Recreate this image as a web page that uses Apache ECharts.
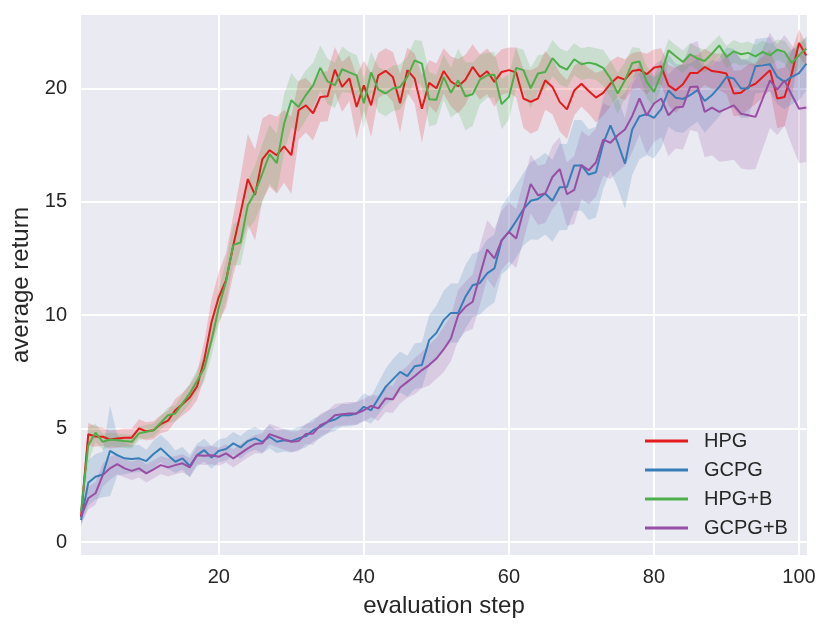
<!DOCTYPE html>
<html>
<head>
<meta charset="utf-8">
<script src="https://cdn.jsdelivr.net/npm/echarts@6/dist/echarts.min.js"></script>
<style>
html,body{margin:0;padding:0;background:#fff;}
#chart{width:831px;height:633px;}
</style>
</head>
<body>
<div id="chart"></div>
<script>
const seriesNames = ['HPG', 'GCPG', 'HPG+B', 'GCPG+B'];
const xTicks = [20, 40, 60, 80, 100];
const yTicks = [0, 5, 10, 15, 20];

const hpg = [1.1,4.75,4.65,4.64,4.52,4.56,4.6,4.6,5.01,4.88,4.93,5.2,5.35,5.81,6.08,6.37,6.86,8.05,9.7,10.8,
11.54,13.08,14.5,16.0,15.3,16.87,17.27,17.05,17.44,17.05,19.03,19.25,18.9,19.62,19.65,20.82,20.06,20.44,19.18,20.13,
19.25,20.57,20.77,20.5,19.34,20.8,20.43,19.1,20.24,20.0,20.76,20.3,20.09,20.38,20.94,20.5,20.75,20.28,20.72,20.8,
20.7,19.55,19.4,19.55,20.35,20.06,19.4,19.07,19.9,20.2,19.88,19.59,19.8,20.2,20.5,20.38,20.76,20.82,20.62,20.91,
20.97,20.13,19.91,20.18,20.67,20.67,20.94,20.76,20.72,20.65,19.77,19.8,20.06,20.2,20.5,20.8,19.55,19.62,20.65,22.0,21.45];

const gcpg = [0.97,2.61,2.88,2.98,4.02,3.83,3.69,3.66,3.69,3.57,3.88,4.13,3.83,3.54,3.69,3.35,3.83,4.05,3.73,4.02,
4.1,4.35,4.17,4.45,4.57,4.42,4.64,4.42,4.49,4.45,4.57,4.67,4.93,5.08,5.3,5.4,5.59,5.59,5.67,5.96,
5.81,6.33,6.84,7.17,7.5,7.31,7.75,7.8,8.9,9.22,9.78,10.1,10.1,10.81,11.32,11.42,11.84,12.06,13.3,13.67,
14.15,14.67,15.04,15.12,15.36,15.04,15.64,15.65,16.6,16.6,16.2,16.3,17.56,18.37,17.6,16.68,18.18,18.77,18.86,18.7,
19.08,19.9,19.58,19.53,19.7,19.92,19.44,19.7,20.06,20.5,20.43,19.99,19.99,20.97,21.01,21.06,20.5,20.28,20.5,20.67,21.09];

const hpgB = [1.34,4.27,4.82,4.42,4.52,4.49,4.45,4.42,4.79,4.86,4.93,5.26,5.59,5.67,6.11,6.55,7.1,7.67,8.9,10.35,
11.5,13.1,13.2,14.85,15.4,16.24,17.1,16.7,18.44,19.47,19.18,19.7,20.13,20.9,20.3,20.13,20.84,20.7,20.57,19.34,
20.7,19.94,19.77,19.99,20.06,20.5,21.23,21.09,19.52,19.5,20.5,19.8,20.35,19.65,19.74,20.38,20.57,20.6,19.3,19.62,
20.9,20.8,20.0,20.65,20.72,21.33,20.97,20.82,21.28,21.06,21.13,21.06,20.9,20.43,19.77,20.35,21.11,21.18,20.28,19.84,
20.65,21.67,21.41,21.16,21.5,21.31,21.2,21.53,21.89,21.38,21.63,21.5,21.56,21.41,21.6,21.45,21.7,21.6,21.11,21.45,21.75];

const gcpgB = [1.11,1.93,2.15,2.95,3.25,3.44,3.25,3.14,3.25,3.03,3.2,3.39,3.29,3.39,3.47,3.29,3.83,3.8,3.83,3.76,
3.91,3.69,3.91,4.13,4.32,4.35,4.76,4.64,4.52,4.42,4.45,4.76,4.79,5.15,5.3,5.59,5.63,5.67,5.67,5.81,
6.0,5.89,6.33,6.29,6.81,7.06,7.31,7.58,7.8,8.09,8.49,8.97,10.0,10.37,10.59,11.76,12.89,12.5,13.3,13.67,
13.38,14.6,15.78,15.29,15.36,16.09,16.44,15.33,15.52,16.62,16.39,16.73,17.74,17.6,17.93,18.18,18.78,19.55,18.8,19.33,
19.55,18.81,19.15,19.19,20.06,20.08,18.96,19.15,18.96,19.1,19.25,18.88,18.81,18.74,19.55,20.35,19.94,20.35,19.7,19.1,19.15];

const hpgSpread = [0.3,0.5,0.45,0.4,0.4,0.4,0.4,0.4,
0.4,0.4,0.4,0.4,0.45,0.5,0.5,0.55,0.6,
0.8,1.0,1.1,1.2,1.3,1.6,
2.0,2.0,1.8,1.6,1.7,1.6,1.7,
1.3,1.2,1.2,1.1,1.1,
1.0,1.1,1.0,1.4,1.1,1.4,1.0,1.0,1.1,1.3,
1.0,1.1,1.5,1.0,1.1,1.0,1.1,1.2,1.1,1.0,1.0,1.0,1.1,1.0,1.0,
1.1,1.3,1.4,1.4,1.3,1.2,1.3,1.3,1.1,1.0,1.0,1.1,1.0,1.0,0.9,
0.9,0.8,0.8,0.9,0.8,0.8,0.9,1.0,0.9,0.8,0.8,0.8,0.8,0.8,0.9,1.0,1.0,1.0,0.9,0.9,0.9,1.3,1.3,1.0,0.6,0.5];

const gcpgSpread = [0.3,1.0,1.0,1.0,2.0,0.9,0.7,0.6,
0.6,0.5,0.6,0.6,0.6,0.5,0.5,0.5,0.5,
0.5,0.5,0.5,0.5,0.5,0.5,
0.5,0.5,0.5,0.5,0.5,0.5,0.5,
0.5,0.5,0.5,0.5,0.5,
0.5,0.5,0.5,0.5,0.6,0.6,0.7,0.8,0.9,0.9,
0.9,1.0,1.0,1.1,1.2,1.3,1.3,1.3,1.4,1.4,1.4,1.5,1.5,1.5,1.6,
1.6,1.6,1.7,1.8,1.8,1.8,1.9,1.9,2.0,2.0,2.0,2.0,2.0,2.0,2.0,
2.0,2.0,1.9,1.8,1.8,1.7,1.6,1.5,1.5,1.4,1.4,1.4,1.3,1.3,1.3,1.3,1.3,1.3,1.2,1.2,1.2,1.2,1.2,1.2,1.2,1.2];

const hpgBSpread = [0.4,0.8,0.4,0.35,0.3,0.3,0.3,0.3,
0.3,0.3,0.3,0.3,0.35,0.35,0.4,0.45,0.5,
0.6,0.7,0.8,0.9,0.9,1.0,
1.1,1.2,1.3,1.3,1.3,1.3,1.2,
1.1,1.1,1.0,1.0,1.0,
1.0,1.0,0.9,0.9,1.1,0.9,1.0,1.0,1.0,1.0,
0.9,0.9,1.0,1.2,1.1,1.0,1.1,1.4,1.5,1.4,1.1,1.0,1.0,1.1,1.0,
0.9,0.9,0.9,0.8,0.8,0.8,0.8,0.8,0.7,0.7,0.7,0.7,0.8,0.8,0.9,
0.8,0.7,0.6,0.7,0.7,0.6,0.5,0.5,0.5,0.5,0.5,0.5,0.5,0.45,0.5,0.5,0.5,0.5,0.5,0.5,0.5,0.45,0.5,0.55,0.6,0.5];

const gcpgBSpread = [0.3,0.5,0.5,0.5,0.5,0.45,0.4,0.4,
0.4,0.4,0.4,0.4,0.4,0.4,0.4,0.4,0.4,
0.4,0.4,0.4,0.4,0.4,0.4,
0.4,0.4,0.45,0.45,0.45,0.45,0.45,
0.45,0.45,0.5,0.5,0.5,
0.5,0.5,0.5,0.5,0.5,0.5,0.55,0.6,0.6,0.7,
0.7,0.8,0.8,0.9,0.9,1.0,1.0,1.1,1.1,1.2,1.3,1.3,1.3,1.3,1.3,
1.3,1.3,1.3,1.3,1.3,1.4,1.4,1.4,1.5,1.5,1.5,1.5,1.6,1.6,1.6,
1.6,1.6,1.6,1.7,1.7,1.7,1.8,1.8,1.9,1.9,2.0,2.0,2.1,2.2,2.3,2.4,2.4,2.4,2.3,2.2,2.1,2.0,2.0,2.2,2.4,2.4];

const colors = ['#e41a1c', '#377eb8', '#4daf4a', '#984ea3'];
const means = [hpg, gcpg, hpgB, gcpgB];
const spreads = [hpgSpread, gcpgSpread, hpgBSpread, gcpgBSpread];
const steps = hpg.map((_, i) => i + 1);

const series = [];
means.forEach((m, k) => {
  const sp = spreads[k];
  const lows = m.map((v, i) => v - sp[i]);
  const highs = m.map((v, i) => v + sp[i]);
  series.push({
    type: 'custom', silent: true, z: 1,
    data: steps.map((x, i) => [x, lows[i], highs[i]]),
    encode: { x: 0, y: [1, 2] },
    renderItem: function (params, api) {
      if (params.dataIndex !== 0) return null;
      const pts = [];
      for (let i = 0; i < steps.length; i++) pts.push(api.coord([steps[i], highs[i]]));
      for (let i = steps.length - 1; i >= 0; i--) pts.push(api.coord([steps[i], lows[i]]));
      return {
        type: 'polygon',
        shape: { points: pts },
        style: { fill: colors[k], opacity: 0.2 }
      };
    }
  });
});
means.forEach((m, k) => {
  series.push({
    name: seriesNames[k], type: 'line', symbol: 'none', z: 3,
    color: colors[k],
    lineStyle: { color: colors[k], width: 2 },
    data: steps.map((x, i) => [x, m[i]])
  });
});

const txt = '#262626';
const font = '"Liberation Sans", Arial, sans-serif';
const chart = echarts.init(document.getElementById('chart'));
chart.setOption({
  animation: false,
  backgroundColor: '#ffffff',
  grid: { left: 81, right: 24, top: 15, bottom: 78, show: true, backgroundColor: '#eaeaf2', borderWidth: 0 },
  legend: {
    data: seriesNames, orient: 'vertical', left: 640, top: 426,
    icon: 'rect', itemWidth: 43, itemHeight: 3, itemGap: 9,
    textStyle: { fontSize: 20, color: txt, fontFamily: font, padding: [0, 0, 0, 11], lineHeight: 20 }
  },
  xAxis: {
    type: 'value', min: 1, max: 101.1,
    name: 'evaluation step', nameLocation: 'middle', nameGap: 39,
    nameTextStyle: { fontSize: 24, color: txt, fontFamily: font },
    axisLine: { show: false },
    axisTick: { show: false, customValues: xTicks },
    axisLabel: { customValues: xTicks, fontSize: 20, color: txt, fontFamily: font, margin: 12 },
    splitLine: { show: true, lineStyle: { color: '#ffffff', width: 2 } }
  },
  yAxis: {
    type: 'value', min: -0.57, max: 23.23,
    name: 'average return', nameLocation: 'middle', nameGap: 40,
    nameTextStyle: { fontSize: 24, color: txt, fontFamily: font },
    axisLine: { show: false },
    axisTick: { show: false, customValues: yTicks },
    axisLabel: { customValues: yTicks, fontSize: 20, color: txt, fontFamily: font, margin: 14 },
    splitLine: { show: true, lineStyle: { color: '#ffffff', width: 2 } }
  },
  series: series
});
</script>
</body>
</html>
